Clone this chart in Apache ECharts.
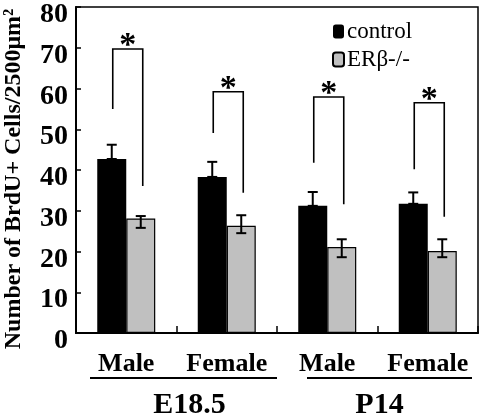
<!DOCTYPE html>
<html><head><meta charset="utf-8">
<script src="https://cdn.jsdelivr.net/npm/echarts@6/dist/echarts.min.js"></script>
<style>html,body{margin:0;padding:0;background:#fff}#c{width:482px;height:417px}</style>
</head><body><div id="c"></div>
<script>
var categories = ['Male', 'Female', 'Male', 'Female'];
var groups = ['E18.5', 'P14'];
var seriesNames = ['control', 'ERβ-/-'];
var controlValues = [42.7, 38.3, 31.2, 31.7];
var controlErrHigh = [46.2, 42.0, 34.6, 34.5];
var koValues = [28.1, 26.3, 21.1, 20.1];
var koErrHigh = [28.7, 28.9, 23.0, 23.0];
var koErrLow = [25.8, 24.5, 18.6, 18.6];
// significance brackets: [left leg bottom, bracket top, right leg bottom]
var bracketLeftBottom = [55.0, 49.1, 41.8, 40.2];
var bracketTop = [69.7, 59.2, 57.9, 56.5];
var bracketRightBottom = [36.1, 34.4, 31.6, 28.5];
var yTicks = [0, 10, 20, 30, 40, 50, 60, 70, 80];

var FONT = "'Liberation Serif','Times New Roman',serif";
var BW = 29;
var chart = echarts.init(document.getElementById('c'));

function errRender(params, api) {
  var i = api.value(0);
  var off = api.value(3);
  var hi = api.coord([i, api.value(1)]);
  var lo = api.coord([i, api.value(2)]);
  var x = hi[0] + off;
  var cap = 5;
  return {
    type: 'group',
    children: [
      {type: 'line', shape: {x1: x, y1: hi[1], x2: x, y2: lo[1]}, style: {stroke: '#000', lineWidth: 2}},
      {type: 'line', shape: {x1: x - cap, y1: hi[1], x2: x + cap, y2: hi[1]}, style: {stroke: '#000', lineWidth: 2}},
      {type: 'line', shape: {x1: x - cap, y1: lo[1], x2: x + cap, y2: lo[1]}, style: {stroke: '#000', lineWidth: 2}}
    ]
  };
}
function bracketRender(params, api) {
  var i = api.value(0);
  var pl = api.coord([i, api.value(1)]);
  var pt = api.coord([i, api.value(2)]);
  var pr = api.coord([i, api.value(3)]);
  var xl = pl[0] - BW / 2 + 1, xr = pl[0] + BW / 2 + 2;
  return {
    type: 'group',
    children: [
      {type: 'polyline', shape: {points: [[xl, pl[1]], [xl, pt[1]], [xr, pt[1]], [xr, pr[1]]]}, style: {stroke: '#000', lineWidth: 1.6, fill: null}},
      {type: 'text', x: (xl + xr) / 2, y: pt[1] - 3, style: {text: '*', font: 'bold 34px ' + FONT, fill: '#000', align: 'center', verticalAlign: 'middle'}}
    ]
  };
}

var errCtrl = controlValues.map(function (v, i) { return [i, controlErrHigh[i], v, -BW / 2]; });
var errKo = koValues.map(function (v, i) { return [i, koErrHigh[i], koErrLow[i], BW / 2]; });
var brackets = categories.map(function (c, i) { return [i, bracketLeftBottom[i], bracketTop[i], bracketRightBottom[i]]; });

chart.setOption({
  animation: false,
  backgroundColor: '#fff',
  textStyle: {fontFamily: FONT},
  grid: {left: 76, right: 4, top: 7, bottom: 84, show: true, borderColor: '#000', borderWidth: 1.5, outerBoundsMode: 'none', containLabel: false},
  legend: {
    data: seriesNames, orient: 'vertical', left: 327, top: 15, itemWidth: 11, itemHeight: 14, itemGap: 5,
    textStyle: {fontSize: 23, fontFamily: FONT, color: '#000', padding: [0, 0, 0, -2]}
  },
  xAxis: [{
    type: 'category', data: categories, position: 'bottom',
    axisLine: {lineStyle: {color: '#000', width: 2}},
    axisTick: {show: true, inside: true, length: 7, lineStyle: {color: '#000', width: 1.5}},
    axisLabel: {interval: 0, fontSize: 26, fontWeight: 'bold', fontFamily: FONT, color: '#000', margin: 18}
  }, {
    type: 'category', data: groups, position: 'bottom', offset: 50, gridIndex: 0,
    axisLine: {show: false}, axisTick: {show: false},
    axisLabel: {interval: 0, fontSize: 30, fontWeight: 'bold', fontFamily: FONT, color: '#000', margin: 7,
      formatter: function (v, i) { return '{g' + i + '|' + v + '}'; },
      rich: {g0: {fontSize: 30, fontWeight: 'bold', fontFamily: FONT, padding: [0, 0, 0, 26]},
             g1: {fontSize: 30, fontWeight: 'bold', fontFamily: FONT, padding: [0, 0, 0, 4]}}}
  }],
  yAxis: {
    type: 'value', min: 0, max: 80, interval: 10,
    name: 'Number of BrdU+ Cells/2500μm²', nameLocation: 'middle', nameGap: 50,
    nameTextStyle: {fontSize: 24, fontWeight: 'bold', fontFamily: FONT, color: '#000', padding: [0, 18, 0, 0]},
    axisLine: {show: true, lineStyle: {color: '#000', width: 2}},
    axisTick: {show: true, inside: true, length: 5, lineStyle: {color: '#000', width: 1.5}},
    axisLabel: {fontSize: 28, fontWeight: 'bold', fontFamily: FONT, color: '#000', margin: 8,
      formatter: function (v) { return yTicks.indexOf(v) >= 0 ? '{t|' + v + '}' : ''; },
      rich: {t: {fontSize: 28, fontWeight: 'bold', fontFamily: FONT, color: '#000', padding: [16, 0, 0, 0]}}},
    splitLine: {show: false}
  },
  series: [
    {name: seriesNames[0], type: 'bar', data: controlValues, barWidth: BW, barGap: '0%',
      itemStyle: {color: '#000', borderColor: '#000', borderWidth: 0}},
    {name: seriesNames[1], type: 'bar', data: koValues, barWidth: BW,
      itemStyle: {color: '#c0c0c0', borderColor: '#000', borderWidth: 1.2}},
    {type: 'custom', renderItem: errRender, data: errCtrl, z: 5},
    {type: 'custom', renderItem: errRender, data: errKo, z: 5},
    {type: 'custom', renderItem: bracketRender, data: brackets, z: 5}
  ]
});

var p0 = chart.convertToPixel({xAxisIndex: 0}, 0);
var p1 = chart.convertToPixel({xAxisIndex: 0}, 1);
var p2 = chart.convertToPixel({xAxisIndex: 0}, 2);
var p3 = chart.convertToPixel({xAxisIndex: 0}, 3);
var band = p1 - p0;
var yBase = chart.convertToPixel({yAxisIndex: 0}, 0);
var uy = yBase + 45;
chart.setOption({
  graphic: [
    {type: 'line', shape: {x1: p0 - band / 2 + 14, y1: uy, x2: p1 + band / 2, y2: uy}, style: {stroke: '#000', lineWidth: 2}},
    {type: 'line', shape: {x1: p2 - band / 2 + 30, y1: uy, x2: p3 + band / 2 - 6, y2: uy}, style: {stroke: '#000', lineWidth: 2}}
  ]
});
</script></body></html>
